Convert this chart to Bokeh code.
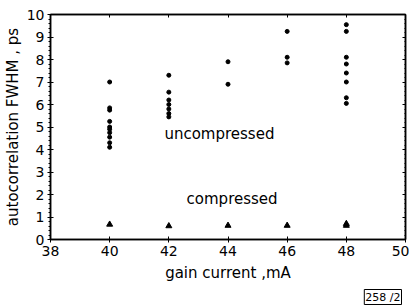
from bokeh.plotting import figure
from bokeh.models import LinearAxis, Label, Range1d, FixedTicker, Title
from bokeh.embed import file_html
from bokeh.resources import INLINE

# uncompressed pulse widths (ps) at each gain current (mA)
unc_current = [40]*10 + [42]*7 + [44]*2 + [46]*3 + [48]*8
unc_fwhm = [7.0, 5.85, 5.75, 5.25, 5.0, 4.9, 4.75, 4.55, 4.3, 4.1,
            7.3, 6.55, 6.2, 6.0, 5.8, 5.6, 5.45,
            7.9, 6.9,
            9.25, 8.1, 7.85,
            9.55, 9.25, 8.1, 7.8, 7.4, 7.0, 6.3, 6.05]
# compressed pulse widths
comp_current = [40, 42, 44, 46, 48, 48]
comp_fwhm = [0.67, 0.6, 0.62, 0.62, 0.62, 0.7]

x_ticks = [38, 40, 42, 44, 46, 48, 50]
y_ticks = [0, 1, 2, 3, 4, 5, 6, 7, 8, 9, 10]
y_minor = [round(i * 0.2, 1) for i in range(51)]

FONT = "DejaVu Sans"

p = figure(frame_width=355, frame_height=225, output_backend="svg", toolbar_location=None,
           x_range=Range1d(38, 50), y_range=Range1d(0, 10),
           min_border_left=44, min_border_right=4, min_border_top=14, min_border_bottom=0)
p.background_fill_color = "white"
p.outline_line_color = "black"
p.outline_line_width = 1.5
p.xgrid.visible = False
p.ygrid.visible = False

p.xaxis.ticker = FixedTicker(ticks=x_ticks)
p.yaxis.ticker = FixedTicker(ticks=y_ticks, minor_ticks=y_minor)
for ax in (p.xaxis[0], p.yaxis[0]):
    ax.axis_line_width = 1.5
    ax.major_tick_line_width = 1
    ax.major_tick_in = 3
    ax.major_tick_out = 3
    ax.minor_tick_in = 0
    ax.minor_tick_out = 2
    ax.major_label_text_font = FONT
    ax.major_label_text_font_size = "14px"
    ax.major_label_text_color = "black"
    ax.axis_label_text_font = FONT
    ax.axis_label_text_font_size = "15px"
    ax.axis_label_text_font_style = "normal"
    ax.axis_label_text_color = "black"
p.xaxis.minor_tick_line_color = None
p.xaxis.axis_label = "gain current ,mA"
p.yaxis.axis_label = "autocorrelation FWHM , ps"
p.xaxis.axis_label_standoff = 5
p.yaxis.axis_label_standoff = 2
p.xaxis.major_label_standoff = 3
p.yaxis.major_label_standoff = 3

right = LinearAxis(ticker=FixedTicker(ticks=y_ticks, minor_ticks=y_minor),
                   major_label_overrides={t: "" for t in y_ticks},
                   major_label_standoff=0, major_label_text_font_size="1px",
                   major_tick_in=3, major_tick_out=0,
                   minor_tick_in=1, minor_tick_out=0, axis_line_width=1.5)
p.add_layout(right, "right")
top = LinearAxis(ticker=FixedTicker(ticks=x_ticks),
                 major_label_overrides={t: "" for t in x_ticks},
                 major_label_standoff=0, major_label_text_font_size="1px",
                 major_tick_in=3, major_tick_out=0, minor_tick_line_color=None,
                 axis_line_width=1.5)
p.add_layout(top, "above")

p.scatter(unc_current, unc_fwhm, marker="circle", size=4, color="black")
p.scatter(comp_current, comp_fwhm, marker="triangle", size=6, color="black")

p.add_layout(Label(x=41.85, y=4.7, text="uncompressed", text_font=FONT,
                   text_font_size="15px", text_color="black", text_baseline="middle"))
p.add_layout(Label(x=42.6, y=1.78, text="compressed", text_font=FONT,
                   text_font_size="15px", text_color="black", text_baseline="middle"))

fig_id = Title(text="258 /2", align="right", text_font=FONT, text_font_size="11px",
               text_font_style="normal", text_color="black", standoff=6, offset=4,
               border_line_color="black", border_line_width=1, padding=1)
p.add_layout(fig_id, "below")

open("out.html", "w").write(file_html(p, INLINE))
